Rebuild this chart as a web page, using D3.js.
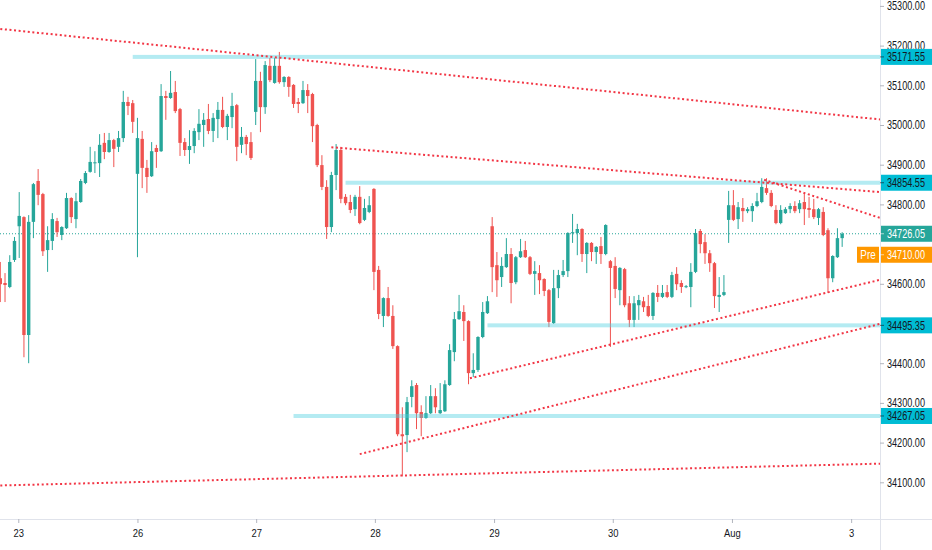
<!DOCTYPE html>
<html>
<head>
<meta charset="utf-8">
<script src="https://cdn.jsdelivr.net/npm/d3@7"></script>
<style>
    body { margin: 0; background: #fff; overflow: hidden; }
    text { font-family: "Liberation Sans", Arial, sans-serif; }
</style>
</head>
<body>
<svg id="chart" width="932" height="550"></svg>
<script>
// hourly candles, [open, high, low, close]
const candles = [
    [34614,34655,34554,34599],[34602,34627,34554,34597],[34592,34672,34589,34655],[34660,34718,34655,34708],
    [34745,34831,34665,34771],[34768,34770,34415,34471],[34471,34773,34400,34756],[34756,34854,34715,34851],
    [34859,34889,34798,34824],[34826,34829,34670,34682],[34685,34745,34630,34710],[34708,34778,34685,34763],
    [34758,34766,34718,34730],[34723,34745,34710,34743],[34740,34829,34738,34816],[34816,34818,34753,34768],
    [34763,34829,34740,34808],[34806,34864,34804,34859],[34854,34884,34851,34879],[34882,34945,34880,34907],
    [34904,34934,34879,34906],[34904,34977,34869,34950],[34955,34980,34914,34932],[34932,34980,34930,34962],
    [34962,34965,34894,34940],[34945,34985,34932,34967],[34967,35086,34957,35058],[35058,35071,35025,35048],
    [35055,35063,34980,35008],[34877,35018,34667,34967],[34965,34985,34841,34892],[34892,34912,34829,34869],
    [34871,34957,34869,34934],[34942,34950,34892,34932],[34934,35103,34932,35073],[35073,35086,35013,35068],
    [35068,35136,35066,35081],[35083,35111,35030,35035],[35040,35043,34922,34955],[34957,34967,34922,34937],
    [34937,34987,34902,34947],[34947,34992,34929,34985],[34982,35040,34962,35003],[35000,35030,34945,35013],
    [35015,35053,34977,34985],[34985,35030,34957,35018],[35015,35058,34967,35038],[35038,35071,34992,34995],
    [34995,35028,34962,35023],[35020,35081,34992,35048],[35050,35053,34909,34945],[34950,34995,34929,34970],
    [34970,34975,34924,34952],[34957,34982,34912,34917],[35033,35166,35000,35111],[35111,35134,34982,35045],
    [35045,35161,35028,35151],[35149,35169,35108,35113],[35106,35169,35104,35149],[35149,35184,35104,35108],
    [35108,35123,35096,35121],[35121,35123,35071,35096],[35101,35103,35043,35053],[35058,35068,35030,35053],
    [35055,35111,35053,35088],[35088,35103,35030,35073],[35078,35081,34957,34997],[35000,35003,34894,34899],
    [34899,34924,34836,34844],[34844,34861,34713,34743],[34743,34882,34730,34874],[34874,34952,34836,34937],
    [34937,34945,34803,34814],[34819,34826,34798,34803],[34806,34824,34778,34786],[34788,34824,34771,34819],
    [34819,34846,34750,34753],[34761,34814,34758,34791],[34781,34821,34778,34798],[34839,34841,34584,34630],
    [34635,34645,34511,34524],[34519,34566,34491,34564],[34564,34592,34517,34519],[34519,34546,34436,34443],
    [34443,34445,34216,34221],[34221,34289,34115,34216],[34219,34315,34176,34302],[34315,34357,34289,34342],
    [34345,34350,34234,34274],[34277,34294,34216,34262],[34262,34317,34260,34274],[34274,34345,34272,34317],
    [34317,34337,34274,34289],[34274,34350,34272,34282],[34279,34357,34277,34347],[34345,34448,34343,34433],
    [34428,34529,34405,34511],[34511,34572,34509,34531],[34529,34546,34456,34506],[34506,34508,34347,34375],
    [34375,34425,34365,34383],[34383,34468,34378,34466],[34466,34554,34463,34529],[34526,34569,34524,34556],
    [34745,34768,34579,34642],[34647,34680,34567,34609],[34617,34667,34592,34645],[34642,34715,34640,34675],
    [34675,34690,34551,34602],[34604,34670,34599,34667],[34667,34713,34665,34682],[34685,34708,34665,34667],
    [34667,34670,34622,34625],[34625,34657,34572,34632],[34627,34647,34574,34609],[34612,34614,34569,34582],
    [34584,34587,34491,34504],[34501,34635,34499,34589],[34589,34635,34564,34622],[34622,34660,34617,34632],
    [34632,34730,34617,34728],[34728,34776,34703,34730],[34728,34751,34672,34738],[34738,34740,34655,34675],
    [34675,34705,34627,34703],[34703,34705,34657,34680],[34680,34695,34650,34693],[34695,34718,34650,34675],
    [34675,34750,34672,34748],[34657,34660,34441,34640],[34645,34667,34564,34587],[34584,34642,34546,34640],
    [34637,34640,34541,34546],[34551,34569,34491,34509],[34509,34569,34491,34551],[34546,34572,34509,34559],
    [34556,34567,34529,34541],[34544,34572,34516,34519],[34519,34579,34509,34577],[34577,34597,34554,34567],
    [34567,34597,34564,34577],[34579,34597,34564,34567],[34567,34630,34564,34622],[34625,34642,34584,34599],
    [34602,34609,34577,34592],[34594,34597,34589,34594],[34592,34652,34541,34630],[34630,34738,34627,34728],
    [34733,34738,34677,34700],[34705,34725,34650,34677],[34677,34685,34630,34652],[34652,34655,34539,34569],
    [34567,34617,34529,34572],[34572,34622,34569,34579],[34761,34834,34703,34798],[34798,34836,34758,34761],
    [34763,34806,34738,34793],[34791,34816,34756,34783],[34783,34793,34778,34788],[34783,34803,34756,34796],
    [34796,34829,34793,34808],[34806,34866,34803,34844],[34841,34866,34824,34829],[34829,34836,34793,34796],
    [34786,34798,34750,34753],[34753,34798,34750,34786],[34778,34793,34776,34788],[34788,34803,34778,34796],
    [34796,34808,34778,34783],[34788,34811,34778,34803],[34806,34829,34748,34788],[34791,34819,34766,34786],
    [34788,34814,34763,34768],[34766,34791,34748,34788],[34781,34793,34720,34723],[34735,34740,34577,34614],
    [34614,34672,34604,34670],[34667,34740,34665,34715],[34715,34730,34693,34726.05]
];

const lastPrice = 34726.05;
const prePrice = 34710.00;

// horizontal levels and the bar they start from
const levelPrices = [35171.55, 34854.55, 34495.35, 34267.05];
const levelStartBar = [28, 73, 103, 62];

// trend lines: [bar1, price1, bar2, price2]
const trendLines = [
    [0, 35242, 186, 35014],
    [70, 34944, 186, 34831],
    [161.5, 34862, 186, 34766],
    [76, 34171, 186, 34499],
    [99.3, 34362, 186, 34610],
    [0, 34092, 186, 34147]
];

const priceTicks = d3.range(34100, 35301, 100);
const dayLabels = ['23', '26', '27', '28', '29', '30', 'Aug', '3'];
const dayBars = [3.8, 29, 54.1, 79.2, 104.4, 129.5, 154.7, 179.9];

const up = '#26a69a', down = '#ef5350';
const plotW = 880, plotH = 519;
const squeeze = 0.76; // the scale font is a narrow one

const svg = d3.select('#chart');

const x = d3.scaleLinear().domain([0, 186]).range([0.3, 880]);
const y = d3.scaleLinear().domain([34100, 35300]).range([482.3, 5.9]);

svg.append('defs').append('clipPath').attr('id', 'plot')
    .append('rect').attr('width', plotW).attr('height', plotH);

const plot = svg.append('g').attr('clip-path', 'url(#plot)');

// current price line
plot.append('line')
    .attr('x1', 0).attr('x2', plotW)
    .attr('y1', y(lastPrice)).attr('y2', y(lastPrice))
    .attr('stroke', up).attr('stroke-width', 1)
    .attr('stroke-dasharray', '1,2');

// candles
const bars = plot.append('g').selectAll('g')
    .data(candles)
    .enter().append('g');

bars.append('line')
    .attr('x1', (d, i) => x(i)).attr('x2', (d, i) => x(i))
    .attr('y1', d => y(d[1])).attr('y2', d => y(d[2]))
    .attr('stroke', d => d[3] >= d[0] ? up : down)
    .attr('stroke-width', 1);

bars.append('rect')
    .attr('x', (d, i) => x(i) - 1.7)
    .attr('width', 3.4)
    .attr('y', d => y(Math.max(d[0], d[3])))
    .attr('height', d => Math.max(1, Math.abs(y(d[0]) - y(d[3]))))
    .attr('fill', d => d[3] >= d[0] ? up : down);

// horizontal levels
plot.append('g').selectAll('rect')
    .data(levelPrices)
    .enter().append('rect')
    .attr('x', (d, i) => x(levelStartBar[i]))
    .attr('width', (d, i) => plotW - x(levelStartBar[i]))
    .attr('y', d => y(d) - 2)
    .attr('height', 4)
    .attr('fill', '#4dd0e1')
    .attr('fill-opacity', 0.42);

// trend lines, extended to the right edge
plot.append('g').selectAll('line')
    .data(trendLines)
    .enter().append('line')
    .attr('x1', d => x(d[0])).attr('y1', d => y(d[1]))
    .attr('x2', d => x(d[2])).attr('y2', d => y(d[3]))
    .attr('stroke', '#f23645')
    .attr('stroke-width', 2)
    .attr('stroke-dasharray', '2,2.6');

// axes
svg.append('line').attr('x1', plotW + 0.5).attr('x2', plotW + 0.5)
    .attr('y1', 0).attr('y2', 550).attr('stroke', '#e0e3eb');
svg.append('line').attr('x1', 0).attr('x2', 932)
    .attr('y1', plotH + 0.5).attr('y2', plotH + 0.5).attr('stroke', '#e0e3eb');

// badge positions on the scale: the pre-market label gets pushed below the last price
const lastPos = y(lastPrice);
const prePos = Math.max(y(prePrice), lastPos + 21);
const badgePos = levelPrices.map(p => y(p)).concat([lastPos, prePos]);

// tick labels hidden behind a badge are dropped, like the scale does
const shownTicks = priceTicks.filter(t => badgePos.every(b => Math.abs(y(t) - b) > 11));

const yAxis = svg.append('g')
    .attr('transform', `translate(${plotW},0)`)
    .call(d3.axisRight(y).tickValues(shownTicks).tickFormat(d3.format('.2f')).tickSize(4).tickPadding(0));
yAxis.select('.domain').remove();
yAxis.selectAll('line').attr('stroke', '#b2b5be');
yAxis.selectAll('text')
    .attr('fill', '#131722').attr('font-size', 12)
    .attr('x', 7 / squeeze)
    .attr('transform', `scale(${squeeze},1)`);

const xAxis = svg.append('g')
    .attr('transform', `translate(0,${plotH})`)
    .call(d3.axisBottom(x).tickValues(dayBars).tickFormat((d, i) => dayLabels[i]).tickSize(4).tickPadding(6));
xAxis.select('.domain').remove();
xAxis.selectAll('line').attr('stroke', '#b2b5be');
xAxis.selectAll('text').attr('fill', '#131722').attr('font-size', 11.5)
    .attr('transform', 'scale(0.82,1)');

// price badges on the scale
function badge(price, pos, fill, color) {
    const g = svg.append('g').attr('transform', `translate(${plotW + 1},${pos})`);
    g.append('rect').attr('x', 0).attr('y', -8).attr('width', 51).attr('height', 16).attr('fill', fill);
    g.append('line').attr('x1', -1).attr('x2', 3).attr('stroke', color).attr('stroke-opacity', 0.6);
    g.append('text').attr('x', 6 / squeeze).attr('dy', '0.36em')
        .attr('transform', `scale(${squeeze},1)`)
        .attr('fill', color).attr('font-size', 12)
        .text(d3.format('.2f')(price));
}

levelPrices.forEach(p => badge(p, y(p), '#00bcd4', '#131722'));
badge(lastPrice, lastPos, up, '#fff');
badge(prePrice, prePos, '#ff9800', '#fff');

// "Pre" tag next to the pre-market price
const pre = svg.append('g').attr('transform', `translate(${plotW - 23},${prePos})`);
pre.append('rect').attr('y', -8).attr('width', 22).attr('height', 16).attr('fill', '#ff9800');
pre.append('text').attr('x', 11 / 0.82).attr('dy', '0.36em').attr('text-anchor', 'middle')
    .attr('transform', 'scale(0.82,1)')
    .attr('fill', '#fff').attr('font-size', 12).text('Pre');
</script>
</body>
</html>
